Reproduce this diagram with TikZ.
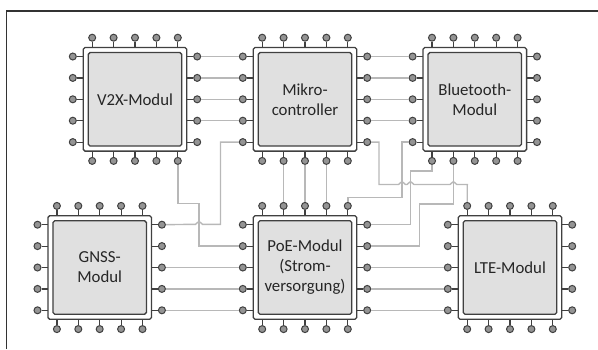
\documentclass[tikz,border=0pt]{standalone}
\usepackage{fontspec}
\setmainfont{Carlito}
\definecolor{pinfill}{HTML}{949494}
\definecolor{pinline}{HTML}{404040}
\definecolor{chipfill}{HTML}{E0E0E0}
\definecolor{wire}{HTML}{B8B8B8}
\definecolor{framec}{HTML}{333333}
\tikzset{
  pin/.style={circle,draw=pinline,fill=pinfill,line width=1pt,minimum size=7pt,inner sep=0pt},
  lead/.style={draw=pinline,line width=1.2pt},
  outerchip/.style={draw=pinline,fill=white,line width=1.3pt,rounded corners=1.8pt},
  innerchip/.style={draw=pinline,fill=chipfill,line width=1.3pt,rounded corners=1.8pt,minimum width=93.5pt,minimum height=93.5pt,inner sep=0pt,align=center,font=\fontsize{16.8}{20}\selectfont,text=black!85},
  wirepath/.style={draw=wire,line width=1.4pt,rounded corners=0pt}
}
\newcommand{\mychip}[4]{%
  % #1 name, #2 centre x, #3 centre y, #4 text
  \draw[outerchip] (#2-51.8,#3-51.8) rectangle (#2+51.8,#3+51.8);
  \node[innerchip] (#1) at (#2,#3) {#4};
  \foreach \k/\d in {1/-42.8,2/-21.4,3/0,4/21.4,5/42.8}{
    \node[pin] (#1t\k) at (#2+\d,#3-61.6) {};
    \node[pin] (#1b\k) at (#2+\d,#3+61.6) {};
    \node[pin] (#1l\k) at (#2-62.2,#3+\d) {};
    \node[pin] (#1r\k) at (#2+62.2,#3+\d) {};
    \draw[lead] (#1t\k) -- (#2+\d,#3-51.8);
    \draw[lead] (#1b\k) -- (#2+\d,#3+51.8);
    \draw[lead] (#1l\k) -- (#2-51.8,#3+\d);
    \draw[lead] (#1r\k) -- (#2+51.8,#3+\d);
  }
}
\begin{document}
\begin{tikzpicture}[x=1pt,y=-1pt]
\useasboundingbox (0,0) rectangle (598,349);
\draw[draw=framec,line width=1.5pt] (6.5,349) -- (6.5,11) -- (598,11);
\mychip{vtx}{135}{99.3}{V2X-Modul}
\mychip{mc}{305}{99.3}{Mikro-\\controller}
\mychip{bt}{474.8}{99.3}{Bluetooth-\\Modul}
\mychip{gnss}{99.7}{267.5}{GNSS-\\Modul}
\mychip{poe}{305}{267.5}{PoE-Modul\\(Strom-\\versorgung)}
\mychip{lte}{510}{267.5}{LTE-Modul}
\foreach \k in {1,2,3,4}{
  \draw[wirepath] (vtxr\k) -- (mcl\k);
  \draw[wirepath] (mcr\k) -- (btl\k);
}
\foreach \k in {3,4,5}{
  \draw[wirepath] (gnssr\k) -- (poel\k);
  \draw[wirepath] (poer\k) -- (ltel\k);
}
\draw[wirepath] (mcb2) -- (poet2);
\draw[wirepath] (mcb3) -- (poet3);
\draw[wirepath] (mcb4) -- (poet4);
% V2X bottom 5 to PoE left 2
\coordinate (a1) at (199,203.5);
\draw[wirepath] (vtxb5) |- (a1) -- (poel2 -| a1) -- (poel2);
% Micro left 5 to GNSS right 1, hops over x=199
\coordinate (a2) at (220.5,224.3);
\draw[wirepath] (mcl5) -| (a2) -- (202.5,224.3) .. controls (201.5,224.3) and (200.5,221.5) .. (199,221.5) .. controls (197.5,221.5) and (196.5,224.3) .. (195.5,224.3) -- (gnssr1);
% PoE top 5 to BT left 5
\coordinate (b1) at (402,197.5);
\draw[wirepath] (poet5) |- (b1) -- (btl5 -| b1) -- (btl5);
% BT bottom 1 to PoE right 1
\coordinate (b2) at (410.5,171);
\draw[wirepath] (btb1) |- (b2) -- (poer1 -| b2) -- (poer1);
% BT bottom 2 to PoE right 2
\coordinate (b3) at (419.5,204);
\draw[wirepath] (btb2) |- (b3) -- (poer2 -| b3) -- (poer2);
% Micro right 5 to LTE top 1, hops at 402, 410.5, 453.4
\coordinate (c1) at (379,184.5);
\coordinate (c2) at (467.3,184.5);
\draw[wirepath] (mcr5) -| (c1)
  -- (398.5,184.5) .. controls (399.5,184.5) and (400.5,181.7) .. (402,181.7) .. controls (403.5,181.7) and (404.5,184.5) .. (405.5,184.5)
  -- (407,184.5) .. controls (408,184.5) and (409,181.7) .. (410.5,181.7) .. controls (412,181.7) and (413,184.5) .. (414,184.5)
  -- (450,184.5) .. controls (451,184.5) and (452,181.7) .. (453.4,181.7) .. controls (454.8,181.7) and (455.8,184.5) .. (456.8,184.5)
  -- (461,184.5) -- (c2) -- (ltet1);
\end{tikzpicture}
\end{document}
